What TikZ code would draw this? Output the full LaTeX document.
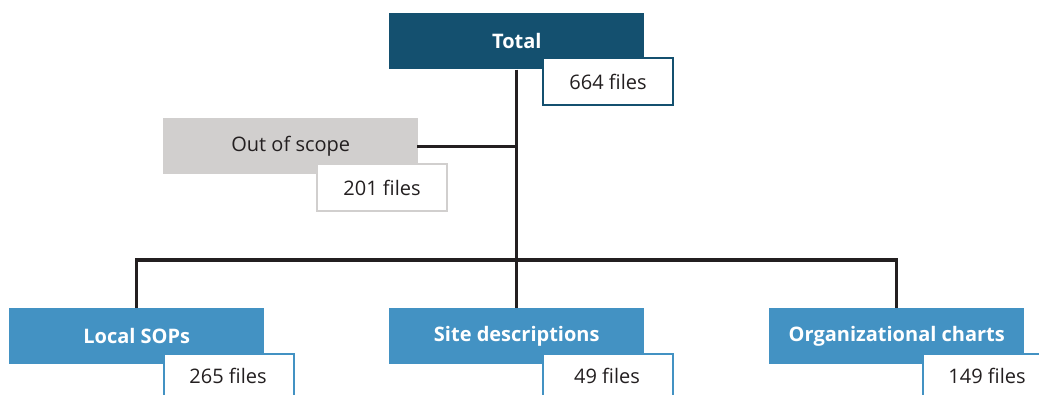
\documentclass[tikz,border=0pt]{standalone}
\usepackage{fontspec}
\setmainfont{Open Sans}
\usetikzlibrary{positioning}
\definecolor{topblue}{HTML}{14506F}
\definecolor{subblue}{HTML}{4392C3}
\definecolor{outgray}{HTML}{D1CFCE}
\definecolor{inkblack}{HTML}{231F20}

\tikzset{
    mainbox/.style={anchor=north west, minimum width=191.25pt, minimum height=42pt,
        inner sep=0pt, font=\fontsize{15}{18}\selectfont\bfseries, text=white},
    countbox/.style={anchor=north west, minimum width=97.5pt, minimum height=35.25pt,
        inner sep=0pt, fill=white, line width=1.5pt, text=inkblack,
        font=\fontsize{15}{18}\selectfont},
    conn/.style={draw=inkblack, line width=2.3pt, line cap=rect}
}

\begin{document}
\begin{tikzpicture}[x=0.75pt,y=-0.75pt]
    \clip (0,0) rectangle (1039,394);
    \useasboundingbox (0,0) rectangle (1039,394);

    % top of the tree
    \node[mainbox, fill=topblue] (total) at (389,13) {Total};
    \node[mainbox, fill=outgray, text=inkblack, font=\fontsize{15}{18}\selectfont] (scope) at (163,118) {Out of scope};

    % second row
    \node[mainbox, fill=subblue] (local) at (9,308) {Local SOPs};
    \node[mainbox, fill=subblue] (site) at (389,308) {Site descriptions};
    \node[mainbox, fill=subblue] (org) at (769,308) {Organizational charts};

    % connectors
    \coordinate (split) at (516,260);
    \draw[conn, line cap=butt] (total.south) -- (site.north);
    \draw[conn] (scope.east) -- (scope.east -| total.south);
    \draw[conn, line cap=butt] (local.north) |- (split) -| (org.north);

    % file counts
    \node[countbox, draw=topblue] (totalcount) at (542,57) {664 files};
    \node[countbox, draw=outgray] (scopecount) at (316,163) {201 files};
    \node[countbox, draw=subblue, minimum height=50pt] (localcount) at (163,353) {};
    \node[countbox, draw=subblue, minimum height=50pt] (sitecount) at (542,353) {};
    \node[countbox, draw=subblue, minimum height=50pt] (orgcount) at (922,353) {};
    \node[text=inkblack, font=\fontsize{15}{18}\selectfont] (localtext) at (228,376) {265 files};
    \node[text=inkblack, font=\fontsize{15}{18}\selectfont] (sitetext) at (607,376) {49 files};
    \node[text=inkblack, font=\fontsize{15}{18}\selectfont] (orgtext) at (987,376) {149 files};
\end{tikzpicture}
\end{document}
